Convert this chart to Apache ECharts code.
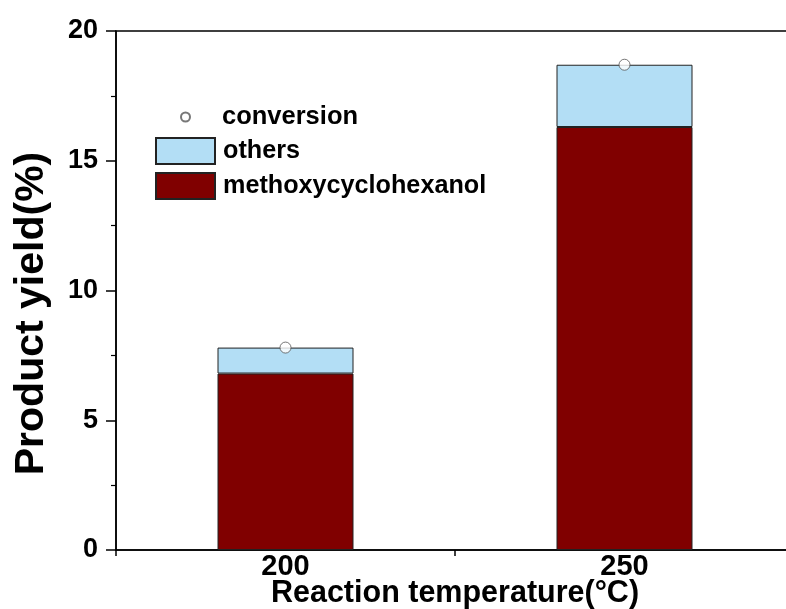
<!DOCTYPE html>
<html>
<head>
<meta charset="utf-8">
<script src="https://cdn.jsdelivr.net/npm/echarts@6/dist/echarts.min.js"></script>
<style>
html,body{margin:0;padding:0;background:#fff;}
#chart{width:786px;height:609px;}
</style>
</head>
<body>
<div id="chart"></div>
<script>
const categories = ['200', '250'];
const methoxycyclohexanol = [6.8, 16.3];
const others = [1.0, 2.4];
const conversion = [7.8, 18.7];
const yTicks = { min: 0, max: 20, interval: 5 };

const FONT = "'Liberation Sans', Arial, Helvetica, sans-serif";
const chart = echarts.init(document.getElementById('chart'), null, { renderer: 'canvas' });

chart.setOption({
  animation: false,
  backgroundColor: '#fff',
  grid: {
    left: 116, right: -8, top: 31, bottom: 59,
    outerBoundsMode: 'none',
    containLabel: false,
    show: true, borderColor: '#000', borderWidth: 1.5, backgroundColor: 'transparent'
  },
  legend: [
    {
      data: [{ name: 'conversion', icon: 'circle' }],
      orient: 'vertical', left: 175, top: 99,
      itemWidth: 59, itemHeight: 9,
      textStyle: { fontFamily: FONT, fontWeight: 'bold', fontSize: 25.5, lineHeight: 26, color: '#000', padding: [0, 0, 0, 2] },
      selectedMode: false
    },
    {
      data: [{ name: 'others', icon: 'rect' }, { name: 'methoxycyclohexanol', icon: 'rect' }],
      orient: 'vertical', left: 150, top: 132,
      itemWidth: 59, itemHeight: 26, itemGap: 7,
      textStyle: { fontFamily: FONT, fontWeight: 'bold', fontSize: 25.2, lineHeight: 26, color: '#000', padding: [0, 0, 0, 3] },
      selectedMode: false
    }
  ],
  xAxis: {
    type: 'category',
    data: categories,
    name: 'Reaction temperature(°C)',
    nameLocation: 'middle',
    nameGap: 28,
    nameMoveOverlap: false,
    nameTextStyle: { fontFamily: FONT, fontWeight: 'bold', fontSize: 30.5, color: '#000' },
    axisLine: { lineStyle: { color: '#000', width: 1.5 } },
    axisTick: { show: true, length: 6, lineStyle: { color: '#000', width: 1.5 } },
    axisLabel: { fontFamily: FONT, fontWeight: 'bold', fontSize: 29, color: '#000', margin: 2 },
    splitLine: { show: false }
  },
  yAxis: {
    type: 'value',
    min: yTicks.min, max: yTicks.max, interval: yTicks.interval,
    name: 'Product yield(%)',
    nameLocation: 'middle',
    nameRotate: 90,
    nameGap: 64,
    nameMoveOverlap: false,
    nameTextStyle: { fontFamily: FONT, fontWeight: 'bold', fontSize: 41, color: '#000', padding: [0, 46, 0, 0] },
    axisLine: { show: true, lineStyle: { color: '#000', width: 1.5 } },
    axisTick: { show: true, length: 10, lineStyle: { color: '#000', width: 1.5 } },
    minorTick: { show: true, splitNumber: 2, length: 5, lineStyle: { color: '#000', width: 1.2 } },
    axisLabel: { fontFamily: FONT, fontWeight: 'bold', fontSize: 27, color: '#000', margin: 18 },
    splitLine: { show: false }
  },
  series: [
    {
      name: 'methoxycyclohexanol',
      type: 'bar',
      stack: 'yield',
      data: methoxycyclohexanol,
      barWidth: 136,
      itemStyle: { color: '#800000', borderColor: '#222', borderWidth: 1 }
    },
    {
      name: 'others',
      type: 'bar',
      stack: 'yield',
      data: others,
      barWidth: 136,
      itemStyle: { color: '#b3def5', borderColor: '#222', borderWidth: 1 }
    },
    {
      name: 'conversion',
      type: 'scatter',
      data: conversion,
      symbol: 'circle',
      symbolSize: 11,
      z: 5,
      itemStyle: { color: '#fff', borderColor: '#555', borderWidth: 1 }
    }
  ]
});
</script>
</body>
</html>
